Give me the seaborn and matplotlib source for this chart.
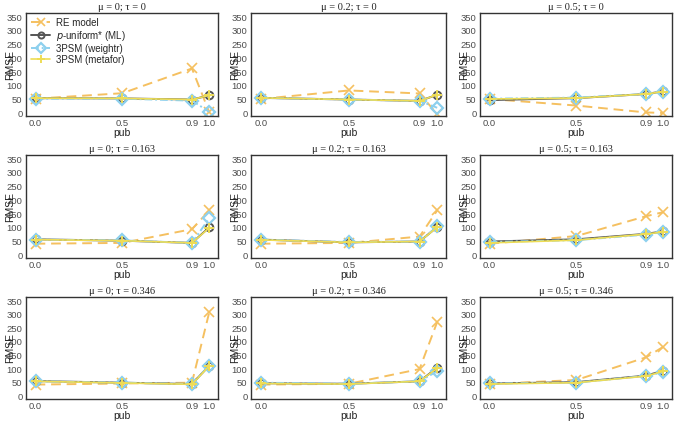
import matplotlib
matplotlib.use("Agg")
import matplotlib.pyplot as plt
import seaborn as sns
import pandas as pd
import numpy as np

sns.set_theme(style="white")
plt.rcParams['font.family'] = ['Liberation Sans', 'DejaVu Sans']

pub = [0.0, 0.5, 0.9, 1.0]
pub_labels = ["0.0", "0.5", "0.9", "1.0"]
methods = ["RE model", "p-uniform* (ML)", "3PSM (weightr)", "3PSM (metafor)"]
titles = [
    "μ = 0; τ = 0", "μ = 0.2; τ = 0", "μ = 0.5; τ = 0",
    "μ = 0; τ = 0.163", "μ = 0.2; τ = 0.163", "μ = 0.5; τ = 0.163",
    "μ = 0; τ = 0.346", "μ = 0.2; τ = 0.346", "μ = 0.5; τ = 0.346",
]

# RMSE values per panel, per method (RE, p-uniform*, weightr, metafor)
re_model = [
    [53, 73, 163, 3], [52, 83, 72, -3], [52, 28, 3, 1],
    [42, 45, 95, 163], [42, 45, 68, 163], [42, 70, 142, 157],
    [43, 47, 50, 310], [43, 46, 100, 273], [45, 60, 143, 182],
]
puniform = [
    [55, 54, 50, 65], [56, 50, 45, 67], [48, 55, 70, 80],
    [58, 53, 45, 102], [57, 47, 50, 103], [50, 58, 78, 87],
    [56, 50, 45, 113], [48, 46, 55, 105], [47, 52, 76, 94],
]
weightr = [
    [53, 53, 46, 5], [56, 50, 45, 20], [53, 57, 70, 78],
    [57, 54, 45, 135], [57, 48, 50, 105], [48, 55, 75, 85],
    [55, 50, 45, 113], [50, 46, 55, 92], [47, 50, 75, 88],
]
metafor = [
    [55, 54, 50, 65], [56, 50, 45, 67], [52, 55, 70, 79],
    [57, 53, 45, 100], [56, 47, 50, 102], [45, 55, 77, 85],
    [55, 49, 44, 112], [47, 45, 55, 103], [45, 50, 74, 92],
]
series = [re_model, puniform, weightr, metafor]

c_re, c_pu, c_wr, c_mf = "#F5C060", "#555555", "#8DD0EE", "#EEDD55"
styles = {
    "RE model": dict(color=c_re, linestyle=(0, (5, 3)), marker="x", markersize=7,
                     markeredgecolor=c_re, markeredgewidth=1.2, linewidth=1.4),
    "p-uniform* (ML)": dict(color=c_pu, linestyle="-", marker="o", markersize=5.5,
                            markerfacecolor="none", markeredgecolor=c_pu,
                            markeredgewidth=1.4, linewidth=1.4),
    "3PSM (weightr)": dict(color=c_wr, linestyle=(0, (4, 1.5, 1, 1.5)), marker="D",
                           markersize=6, markerfacecolor="none", markeredgecolor=c_wr,
                           markeredgewidth=1.6, linewidth=1.4),
    "3PSM (metafor)": dict(color=c_mf, linestyle="-", marker="+", markersize=7,
                           markeredgecolor=c_mf, markeredgewidth=1.4, linewidth=1.2),
}

W, H = 676, 423
fig = plt.figure(figsize=(W / 100, H / 100), dpi=100)
cols = [(26, 218), (251, 446), (480, 672)]
rows = [(13, 116), (155, 258), (297, 399)]

dark = "#4D4D4D"
for i in range(9):
    r, c = divmod(i, 3)
    x0, x1 = cols[c]
    y0, y1 = rows[r]
    ax = fig.add_axes([x0 / W, 1 - y1 / H, (x1 - x0) / W, (y1 - y0) / H])
    for m, data in zip(methods, series):
        df = pd.DataFrame({"pub": pub, "RMSE": data[i]})
        sns.lineplot(data=df, x="pub", y="RMSE", ax=ax, label=m if i == 0 else None,
                     **styles[m])
    ax.set_xlim(-0.055, 1.05)
    ax.set_ylim(-10, 365)
    ax.set_xticks(pub)
    ax.set_xticklabels(pub_labels)
    ax.set_yticks(range(0, 351, 50))
    ax.tick_params(axis="both", labelsize=6.8, colors=dark, length=2, width=0.6, pad=0.5)
    for sp in ax.spines.values():
        sp.set_color("#333333")
        sp.set_linewidth(1.0)
    ax.set_xlabel("pub", fontsize=7.5, color="#222222", labelpad=0)
    ax.set_ylabel("RMSE", fontsize=7.5, color="#222222", labelpad=-6)
    ax.set_title(titles[i], fontsize=7.5, family=["Liberation Serif", "DejaVu Serif"],
                 color="#222222", pad=2.5)
    ax.grid(False)
    if i == 0:
        handles, _ = ax.get_legend_handles_labels()
        labels = ["RE model", "$p$-uniform* (ML)", "3PSM (weightr)", "3PSM (metafor)"]
        ax.legend(handles, labels, loc="upper left", frameon=False, fontsize=7,
                  handlelength=2.0, borderaxespad=0.1, labelspacing=0.1,
                  handletextpad=0.6, bbox_to_anchor=(0.0, 1.0), markerscale=0.8)
    else:
        if ax.get_legend() is not None:
            ax.get_legend().remove()

fig.savefig("out.png", dpi=100)
